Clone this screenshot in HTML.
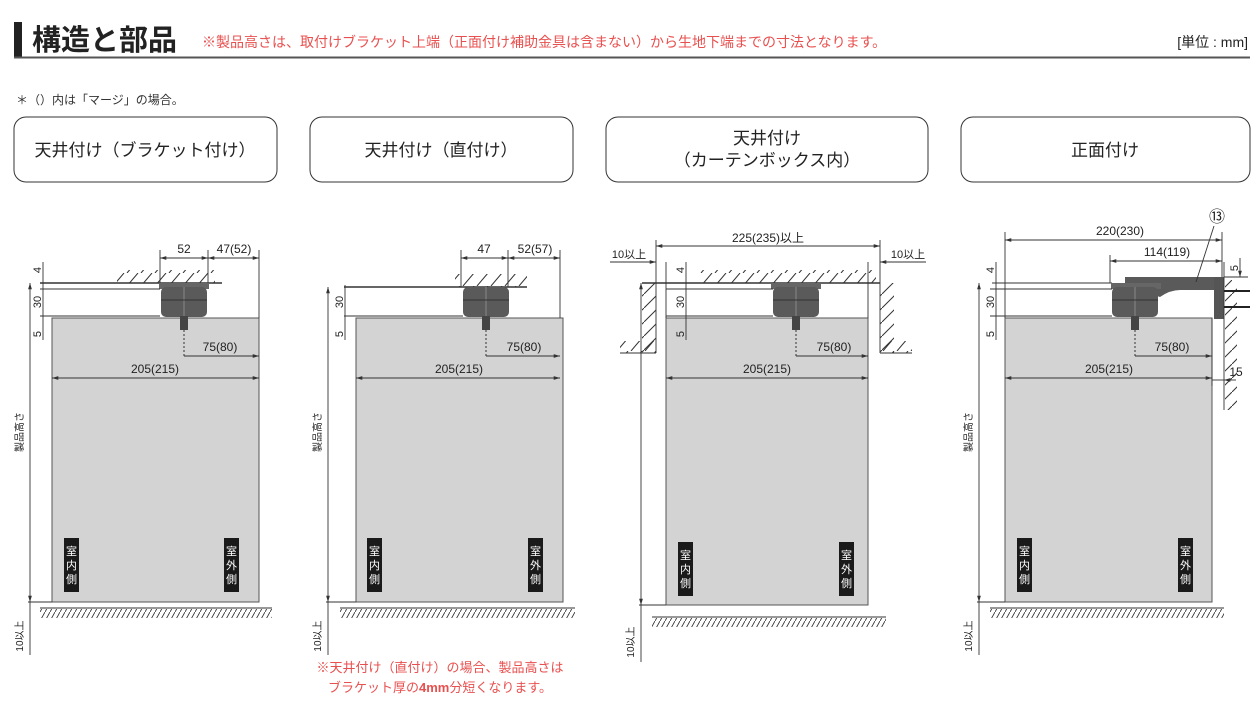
<!DOCTYPE html>
<html><head><meta charset="utf-8"><style>
body{margin:0;background:#fff}
svg{display:block}
text{font-family:"Liberation Sans","Noto Sans CJK JP",sans-serif;fill:#222}
.d{stroke:#333;stroke-width:0.9;fill:none}
.t{font-size:12px;text-anchor:middle}
.v{font-size:11px;text-anchor:middle}
</style></head><body>
<svg width="1260" height="720" viewBox="0 0 1260 720">
<defs>
<marker id="a" viewBox="0 0 10 10" refX="10" refY="5" markerWidth="7" markerHeight="7" orient="auto-start-reverse"><path d="M0,2 L10,5 L0,8z" fill="#333"/></marker>
<pattern id="ch" width="14" height="13" patternUnits="userSpaceOnUse"><path d="M1,13 L12,0" stroke="#333" stroke-width="1"/></pattern>
<pattern id="fh" width="5" height="9" patternUnits="userSpaceOnUse"><path d="M0,9 L5,0" stroke="#333" stroke-width="0.9"/></pattern>
<pattern id="wl" width="14" height="14" patternUnits="userSpaceOnUse"><path d="M0,14 L14,0" stroke="#333" stroke-width="1"/></pattern>
</defs>

<!-- header -->
<rect x="14" y="22" width="8" height="36" fill="#222"/>
<text x="32" y="50" style="font-size:29px;font-weight:bold">構造と部品</text>
<text x="202" y="47" style="font-size:14px;fill:#e8504f">※製品高さは、取付けブラケット上端（正面付け補助金具は含まない）から生地下端までの寸法となります。</text>
<text x="1248" y="47" style="font-size:14px;text-anchor:end">[単位 : mm]</text>
<line x1="14" y1="57.5" x2="1250" y2="57.5" stroke="#555" stroke-width="2"/>
<text x="16" y="104" style="font-size:12px;fill:#333">＊（）内は「マージ」の場合。</text>

<!-- title boxes -->
<g fill="none" stroke="#333" stroke-width="1">
<rect x="14" y="117" width="263" height="65" rx="12"/>
<rect x="310" y="117" width="263" height="65" rx="12"/>
<rect x="606" y="117" width="322" height="65" rx="12"/>
<rect x="961" y="117" width="289" height="65" rx="12"/>
</g>
<g style="font-size:17px;text-anchor:middle">
<text x="145" y="156">天井付け（ブラケット付け）</text>
<text x="441" y="156">天井付け（直付け）</text>
<text x="767" y="144">天井付け</text>
<text x="767" y="166">（カーテンボックス内）</text>
<text x="1105" y="156">正面付け</text>
</g>

<!-- DIAGRAM 1 -->
<g>
<rect x="52" y="318" width="207" height="284" fill="#d3d3d3" stroke="#555"/>
<rect x="117" y="270" width="98" height="13" fill="url(#ch)"/>
<line x1="40" y1="283" x2="222" y2="283" stroke="#333" stroke-width="1.5"/>
<rect x="159" y="283" width="50" height="6" fill="#666"/>
<rect x="161" y="287" width="46" height="30" rx="5" fill="#5a5a5a"/>
<line x1="184" y1="287" x2="184" y2="316" stroke="#888"/><line x1="161" y1="300" x2="207" y2="300" stroke="#333"/>
<rect x="180" y="316" width="8" height="14" fill="#444"/>
<line x1="184" y1="330" x2="184" y2="356" stroke="#333" stroke-dasharray="2,2"/>
<line class="d" x1="160" y1="250" x2="160" y2="283"/><line class="d" x1="208" y1="250" x2="208" y2="283"/><line class="d" x1="259" y1="250" x2="259" y2="318"/>
<line class="d" x1="160" y1="258" x2="208" y2="258" marker-start="url(#a)" marker-end="url(#a)"/>
<line class="d" x1="208" y1="258" x2="259" y2="258" marker-start="url(#a)" marker-end="url(#a)"/>
<text class="t" x="184" y="253">52</text><text class="t" x="234" y="253">47(52)</text>
<line class="d" x1="40" y1="289" x2="160" y2="289"/><line class="d" x1="40" y1="316" x2="160" y2="316"/>
<line class="d" x1="43" y1="262" x2="43" y2="340"/>
<text class="v" transform="translate(41,270) rotate(-90)">4</text>
<text class="v" transform="translate(41,302) rotate(-90)">30</text>
<text class="v" transform="translate(41,334) rotate(-90)">5</text>
<line class="d" x1="30" y1="283" x2="30" y2="602" marker-start="url(#a)" marker-end="url(#a)"/>
<text class="v" style="font-size:10px" transform="translate(23,432) rotate(-90)">製品高さ</text>
<line class="d" x1="184" y1="356" x2="259" y2="356" marker-end="url(#a)"/><text class="t" x="220" y="351">75(80)</text>
<line class="d" x1="52" y1="378" x2="259" y2="378" marker-start="url(#a)" marker-end="url(#a)"/><text class="t" x="155" y="373">205(215)</text>
<rect x="64" y="538" width="15" height="54" fill="#1a1a1a"/><rect x="224" y="538" width="15" height="54" fill="#1a1a1a"/>
<text style="font-size:11px;fill:#fff" x="66" y="555">室</text><text style="font-size:11px;fill:#fff" x="66" y="569">内</text><text style="font-size:11px;fill:#fff" x="66" y="583">側</text>
<text style="font-size:11px;fill:#fff" x="226" y="555">室</text><text style="font-size:11px;fill:#fff" x="226" y="569">外</text><text style="font-size:11px;fill:#fff" x="226" y="583">側</text>
<line class="d" x1="28" y1="602" x2="52" y2="602"/>
<line class="d" x1="40" y1="608" x2="272" y2="608"/><rect x="40" y="609" width="232" height="9" fill="url(#fh)"/>
<line class="d" x1="30" y1="602" x2="30" y2="655"/>
<text class="v" style="font-size:10px" transform="translate(23,636) rotate(-90)">10以上</text>
</g>

<!-- DIAGRAM 2 -->
<g>
<rect x="356" y="318" width="207" height="284" fill="#d3d3d3" stroke="#555"/>
<rect x="455" y="274" width="72" height="13" fill="url(#ch)"/>
<line x1="344" y1="287" x2="527" y2="287" stroke="#333" stroke-width="1.5"/>
<rect x="463" y="287" width="46" height="30" rx="5" fill="#5a5a5a"/>
<line x1="486" y1="287" x2="486" y2="316" stroke="#888"/><line x1="463" y1="300" x2="509" y2="300" stroke="#333"/>
<rect x="482" y="316" width="8" height="14" fill="#444"/>
<line x1="486" y1="330" x2="486" y2="356" stroke="#333" stroke-dasharray="2,2"/>
<line class="d" x1="461" y1="250" x2="461" y2="287"/><line class="d" x1="508" y1="250" x2="508" y2="287"/><line class="d" x1="560" y1="250" x2="560" y2="318"/>
<line class="d" x1="461" y1="258" x2="508" y2="258" marker-start="url(#a)" marker-end="url(#a)"/>
<line class="d" x1="508" y1="258" x2="560" y2="258" marker-start="url(#a)" marker-end="url(#a)"/>
<text class="t" x="484" y="253">47</text><text class="t" x="535" y="253">52(57)</text>
<line class="d" x1="344" y1="316" x2="463" y2="316"/>
<line class="d" x1="345" y1="285" x2="345" y2="340"/>
<text class="v" transform="translate(343,302) rotate(-90)">30</text>
<text class="v" transform="translate(343,334) rotate(-90)">5</text>
<line class="d" x1="328" y1="287" x2="328" y2="602" marker-start="url(#a)" marker-end="url(#a)"/>
<text class="v" style="font-size:10px" transform="translate(321,432) rotate(-90)">製品高さ</text>
<line class="d" x1="486" y1="356" x2="560" y2="356" marker-end="url(#a)"/><text class="t" x="524" y="351">75(80)</text>
<line class="d" x1="356" y1="378" x2="560" y2="378" marker-start="url(#a)" marker-end="url(#a)"/><text class="t" x="459" y="373">205(215)</text>
<rect x="367" y="538" width="15" height="54" fill="#1a1a1a"/><rect x="528" y="538" width="15" height="54" fill="#1a1a1a"/>
<text style="font-size:11px;fill:#fff" x="369" y="555">室</text><text style="font-size:11px;fill:#fff" x="369" y="569">内</text><text style="font-size:11px;fill:#fff" x="369" y="583">側</text>
<text style="font-size:11px;fill:#fff" x="530" y="555">室</text><text style="font-size:11px;fill:#fff" x="530" y="569">外</text><text style="font-size:11px;fill:#fff" x="530" y="583">側</text>
<line class="d" x1="326" y1="602" x2="356" y2="602"/>
<line class="d" x1="340" y1="608" x2="575" y2="608"/><rect x="340" y="609" width="235" height="9" fill="url(#fh)"/>
<line class="d" x1="328" y1="602" x2="328" y2="655"/>
<text class="v" style="font-size:10px" transform="translate(321,636) rotate(-90)">10以上</text>
<text x="440" y="672" style="font-size:13px;fill:#e8504f;text-anchor:middle">※天井付け（直付け）の場合、製品高さは</text>
<text x="440" y="692" style="font-size:13px;fill:#e8504f;text-anchor:middle">ブラケット厚の<tspan style="font-weight:bold;fill:#e8504f">4mm</tspan>分短くなります。</text>
</g>

<!-- DIAGRAM 3 -->
<g>
<rect x="666" y="318" width="202" height="287" fill="#d3d3d3" stroke="#555"/>
<rect x="700" y="270" width="176" height="13" fill="url(#ch)"/>
<line x1="642" y1="283" x2="880" y2="283" stroke="#333" stroke-width="1.5"/>
<rect x="642" y="283" width="14" height="70" fill="url(#wl)"/><line class="d" x1="656" y1="262" x2="656" y2="353"/>
<line class="d" x1="620" y1="353" x2="656" y2="353"/><rect x="620" y="341" width="36" height="12" fill="url(#ch)"/>
<rect x="880" y="283" width="14" height="70" fill="url(#wl)"/><line class="d" x1="880" y1="262" x2="880" y2="353"/>
<line class="d" x1="880" y1="353" x2="912" y2="353"/><rect x="880" y="341" width="32" height="12" fill="url(#ch)"/>
<rect x="771" y="283" width="50" height="6" fill="#666"/>
<rect x="773" y="287" width="46" height="30" rx="5" fill="#5a5a5a"/>
<line x1="796" y1="287" x2="796" y2="316" stroke="#888"/><line x1="773" y1="300" x2="819" y2="300" stroke="#333"/>
<rect x="792" y="316" width="8" height="14" fill="#444"/>
<line x1="796" y1="330" x2="796" y2="356" stroke="#333" stroke-dasharray="2,2"/>
<line class="d" x1="656" y1="240" x2="656" y2="262"/><line class="d" x1="880" y1="240" x2="880" y2="262"/>
<line class="d" x1="656" y1="246" x2="880" y2="246" marker-start="url(#a)" marker-end="url(#a)"/>
<text class="t" x="768" y="242">225(235)以上</text>
<line class="d" x1="610" y1="262" x2="656" y2="262" marker-end="url(#a)"/><text class="t" x="629" y="258" style="font-size:11px">10以上</text>
<line class="d" x1="926" y1="262" x2="880" y2="262" marker-end="url(#a)"/><text class="t" x="908" y="258" style="font-size:11px">10以上</text>
<line class="d" x1="666" y1="262" x2="666" y2="318"/><line class="d" x1="868" y1="262" x2="868" y2="318"/>
<line class="d" x1="666" y1="289" x2="773" y2="289"/><line class="d" x1="666" y1="316" x2="773" y2="316"/>
<line class="d" x1="686" y1="262" x2="686" y2="340"/>
<text class="v" transform="translate(684,270) rotate(-90)">4</text>
<text class="v" transform="translate(684,302) rotate(-90)">30</text>
<text class="v" transform="translate(684,334) rotate(-90)">5</text>
<line class="d" x1="641" y1="283" x2="641" y2="605" marker-start="url(#a)" marker-end="url(#a)"/>
<line class="d" x1="796" y1="356" x2="868" y2="356" marker-end="url(#a)"/><text class="t" x="834" y="351">75(80)</text>
<line class="d" x1="666" y1="378" x2="868" y2="378" marker-start="url(#a)" marker-end="url(#a)"/><text class="t" x="767" y="373">205(215)</text>
<rect x="678" y="542" width="15" height="54" fill="#1a1a1a"/><rect x="839" y="542" width="15" height="54" fill="#1a1a1a"/>
<text style="font-size:11px;fill:#fff" x="680" y="559">室</text><text style="font-size:11px;fill:#fff" x="680" y="573">内</text><text style="font-size:11px;fill:#fff" x="680" y="587">側</text>
<text style="font-size:11px;fill:#fff" x="841" y="559">室</text><text style="font-size:11px;fill:#fff" x="841" y="573">外</text><text style="font-size:11px;fill:#fff" x="841" y="587">側</text>
<line class="d" x1="639" y1="605" x2="666" y2="605"/>
<line class="d" x1="652" y1="617" x2="886" y2="617"/><rect x="652" y="618" width="234" height="9" fill="url(#fh)"/>
<line class="d" x1="641" y1="605" x2="641" y2="662"/>
<text class="v" style="font-size:10px" transform="translate(634,642) rotate(-90)">10以上</text>
</g>

<!-- DIAGRAM 4 -->
<g>
<rect x="1005" y="318" width="207" height="284" fill="#d3d3d3" stroke="#555"/>
<line class="d" x1="992" y1="283" x2="1112" y2="283"/>
<path d="M1125,277 L1222,277 L1222,290 L1180,290 Q1170,290 1160,297 L1125,285z" fill="#5a5a5a"/>
<rect x="1214" y="277" width="10" height="42" fill="#555"/>
<line class="d" x1="1224" y1="262" x2="1224" y2="410"/>
<rect x="1225" y="280" width="12" height="130" fill="url(#wl)"/>
<line x1="1224" y1="291" x2="1250" y2="291" stroke="#222" stroke-width="2"/><line x1="1224" y1="307" x2="1250" y2="307" stroke="#222" stroke-width="2"/>
<rect x="1111" y="283" width="50" height="6" fill="#666"/>
<rect x="1112" y="287" width="46" height="30" rx="5" fill="#5a5a5a"/>
<line x1="1135" y1="287" x2="1135" y2="316" stroke="#888"/><line x1="1112" y1="300" x2="1158" y2="300" stroke="#333"/>
<rect x="1131" y="316" width="8" height="14" fill="#444"/>
<line x1="1135" y1="330" x2="1135" y2="356" stroke="#333" stroke-dasharray="2,2"/>
<line class="d" x1="1005" y1="232" x2="1005" y2="318"/><line class="d" x1="1222" y1="232" x2="1222" y2="277"/><line class="d" x1="1110" y1="255" x2="1110" y2="283"/>
<line class="d" x1="1005" y1="240" x2="1222" y2="240" marker-start="url(#a)" marker-end="url(#a)"/><text class="t" x="1120" y="235">220(230)</text>
<line class="d" x1="1110" y1="261" x2="1222" y2="261" marker-start="url(#a)" marker-end="url(#a)"/><text class="t" x="1167" y="256">114(119)</text>
<text x="1217" y="222" style="font-size:16px;text-anchor:middle">⑬</text>
<line class="d" x1="1214" y1="226" x2="1196" y2="282"/>
<line class="d" x1="1224" y1="277" x2="1248" y2="277"/>
<line class="d" x1="1240" y1="258" x2="1240" y2="277" marker-end="url(#a)"/>
<text class="v" transform="translate(1238,268) rotate(-90)">5</text>
<line class="d" x1="1212" y1="380" x2="1224" y2="380"/><line class="d" x1="1236" y1="380" x2="1224" y2="380" marker-end="url(#a)"/>
<line class="d" x1="1212" y1="318" x2="1212" y2="386"/>
<text class="t" x="1236" y="376">15</text>
<line class="d" x1="990" y1="289" x2="1112" y2="289"/><line class="d" x1="990" y1="316" x2="1112" y2="316"/>
<line class="d" x1="996" y1="262" x2="996" y2="340"/>
<text class="v" transform="translate(994,270) rotate(-90)">4</text>
<text class="v" transform="translate(994,302) rotate(-90)">30</text>
<text class="v" transform="translate(994,334) rotate(-90)">5</text>
<line class="d" x1="979" y1="283" x2="979" y2="602" marker-start="url(#a)" marker-end="url(#a)"/>
<text class="v" style="font-size:10px" transform="translate(972,432) rotate(-90)">製品高さ</text>
<line class="d" x1="1135" y1="356" x2="1212" y2="356" marker-end="url(#a)"/><text class="t" x="1172" y="351">75(80)</text>
<line class="d" x1="1005" y1="378" x2="1212" y2="378" marker-start="url(#a)" marker-end="url(#a)"/><text class="t" x="1109" y="373">205(215)</text>
<rect x="1017" y="538" width="15" height="54" fill="#1a1a1a"/><rect x="1178" y="538" width="15" height="54" fill="#1a1a1a"/>
<text style="font-size:11px;fill:#fff" x="1019" y="555">室</text><text style="font-size:11px;fill:#fff" x="1019" y="569">内</text><text style="font-size:11px;fill:#fff" x="1019" y="583">側</text>
<text style="font-size:11px;fill:#fff" x="1180" y="555">室</text><text style="font-size:11px;fill:#fff" x="1180" y="569">外</text><text style="font-size:11px;fill:#fff" x="1180" y="583">側</text>
<line class="d" x1="977" y1="602" x2="1005" y2="602"/>
<line class="d" x1="990" y1="608" x2="1224" y2="608"/><rect x="990" y="609" width="234" height="9" fill="url(#fh)"/>
<line class="d" x1="979" y1="602" x2="979" y2="655"/>
<text class="v" style="font-size:10px" transform="translate(972,636) rotate(-90)">10以上</text>
</g>
</svg>
</body></html>
